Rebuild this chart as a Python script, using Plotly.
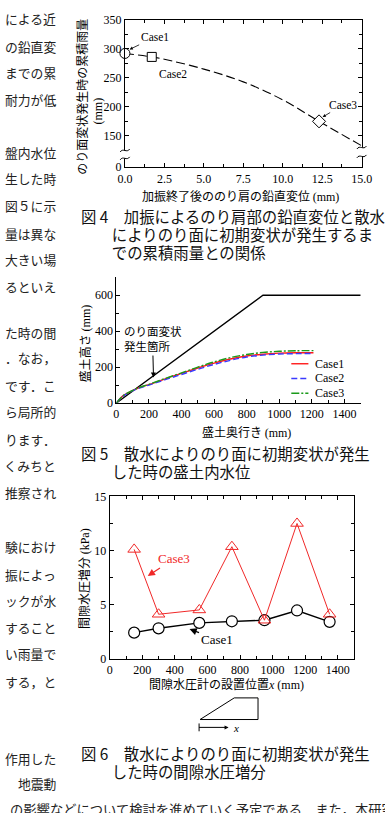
import plotly.graph_objects as go

# ---------------- data ----------------
# Fig.4
f4_cases = ["Case1", "Case2", "Case3"]
f4_disp = [0.0, 1.7, 12.3]
f4_rain = [292, 286, 175]
f4_symbols = ["circle", "square", "diamond"]
f4_fit_x = [0.0, 1.7, 2.5, 5.0, 7.5, 10.0, 12.3, 15.0]
f4_fit_y = [292, 286, 282, 265, 243, 212, 175, 133]
f4_xticks = [0.0, 2.5, 5.0, 7.5, 10.0, 12.5, 15.0]
f4_yticks = [96, 150, 200, 250, 300, 350]
f4_yticktext = ["0", "150", "200", "250", "300", "350"]

# Fig.5
f5_surface_x = [0, 900, 1500]
f5_surface_y = [0, 600, 600]
f5_depth = [0, 40, 130, 200, 300, 400, 500, 600, 700, 800, 900, 1000, 1100, 1210]
f5_case1 = [0, 40, 82, 103, 135, 165, 195, 222, 245, 262, 272, 278, 280, 280]
f5_case2 = [0, 38, 80, 100, 130, 159, 188, 215, 238, 256, 267, 273, 275, 276]
f5_case3 = [0, 40, 83, 104, 137, 168, 200, 229, 253, 270, 282, 288, 291, 292]
f5_names = ["Case1", "Case2", "Case3"]

# Fig.6
f6_x = [150, 300, 550, 750, 950, 1150, 1350]
f6_case1 = [2.4, 2.8, 3.3, 3.45, 3.55, 4.45, 3.4]
f6_case3 = [10.1, 4.1, 4.5, 10.35, 3.55, 12.5, 4.1]

# body text fragments visible in the left column
body_lines = [
    (12, "による近"), (40, "の鉛直変"), (67, "までの累"), (94, "耐力が低"),
    (148, "盤内水位"), (175, "生した時"), (202, "図５に示"), (230, "量は異な"),
    (257, "大きい場"), (284, "るといえ"),
    (331, "た時の間"), (357, "．なお，"), (385, "です．こ"), (412, "ら局所的"),
    (440, "ります．"), (467, "くみちと"), (494, "推察され"),
    (549, "験におけ"), (577, "振によっ"), (604, "ックが水"), (631, "すること"),
    (658, "い雨量で"), (686, "する，と"),
    (765, "作用した"), (790, "地震動"),
]
bottom_line = "の影響などについて検討を進めていく予定である．また，本研究"

captions = [
    (75, 210, ["図 4　加振によるのり肩部の鉛直変位と散水",
               "　　によりのり面に初期変状が発生するま",
               "　　での累積雨量との関係"]),
    (75, 452, ["図 5　散水によりのり面に初期変状が発生",
               "　　した時の盛土内水位"]),
    (75, 757, ["図 6　散水によりのり面に初期変状が発生",
               "　　した時の間隙水圧増分"]),
]

# ---------------- helpers ----------------
W, H = 385, 813
def px(x):
    return x / W
def py(y):
    return 1 - y / H
def P(x, y):
    return f"{px(x):.5f},{py(y):.5f}"

JP = "Noto Sans CJK JP"
SERIF = "Liberation Serif"
RED = "#f02828"

fig = go.Figure()

# ---- Fig.4 traces ----
fig.add_trace(go.Scatter(x=f4_fit_x, y=f4_fit_y, mode="lines",
                         line=dict(color="black", width=1.1, dash="9px,4px", shape="spline"),
                         xaxis="x", yaxis="y", hoverinfo="skip", cliponaxis=False))
for i in range(3):
    fig.add_trace(go.Scatter(x=[f4_disp[i]], y=[f4_rain[i]], mode="markers",
                             marker=dict(symbol=f4_symbols[i], size=[10, 9, 10][i], color="white",
                                         line=dict(color="black", width=1)),
                             xaxis="x", yaxis="y", cliponaxis=False, name=f4_cases[i]))

# ---- Fig.5 traces ----
fig.add_trace(go.Scatter(x=f5_surface_x, y=f5_surface_y, mode="lines",
                         line=dict(color="black", width=1.3), xaxis="x2", yaxis="y2"))
f5_styles = [dict(color="#ff1a1a", width=1.4, dash="solid"),
             dict(color="#3a3aff", width=1.4, dash="6px,3px"),
             dict(color="#1a9a1a", width=1.4, dash="8px,2px,2px,2px")]
for ys, st, nm in zip([f5_case1, f5_case2, f5_case3], f5_styles, f5_names):
    fig.add_trace(go.Scatter(x=f5_depth, y=ys, mode="lines", line=dict(shape="spline", **st),
                             xaxis="x2", yaxis="y2", name=nm))

# ---- Fig.6 traces ----
fig.add_trace(go.Scatter(x=f6_x, y=f6_case1, mode="lines+markers",
                         line=dict(color="black", width=1.4),
                         marker=dict(symbol="circle", size=11, color="white",
                                     line=dict(color="black", width=1.2)),
                         xaxis="x3", yaxis="y3", name="Case1"))
fig.add_trace(go.Scatter(x=f6_x, y=f6_case3, mode="lines+markers",
                         line=dict(color=RED, width=1),
                         marker=dict(symbol="triangle-up-open", size=11, color=RED,
                                     line=dict(color=RED, width=1)),
                         xaxis="x3", yaxis="y3", name="Case3"))

# ---- axes ----
def ax(**kw):
    base = dict(showline=True, linecolor="black", linewidth=1, ticks="inside", ticklen=4,
                tickcolor="black", tickwidth=1, showgrid=False, zeroline=False,
                tickfont=dict(family=SERIF, size=12, color="black"), fixedrange=True)
    base.update(kw)
    return base

minor = lambda **kw: dict(ticks="inside", ticklen=3, tickcolor="black", showgrid=False, **kw)

fig.update_layout(
    width=W, height=H, margin=dict(l=0, r=0, t=0, b=0),
    paper_bgcolor="white", plot_bgcolor="white", showlegend=False,
    xaxis=ax(domain=[px(123), px(372)], range=[0, 15], tickvals=f4_xticks, tickformat=".1f",
             mirror="allticks", anchor="y", minor=minor(dtick=1.25, tick0=0)),
    yaxis=ax(domain=[py(163), py(13)], range=[96, 350], tickvals=f4_yticks, ticktext=f4_yticktext,
             mirror="allticks", anchor="x", minor=minor(tickvals=[175, 225, 275, 325])),
    xaxis2=ax(domain=[px(114), px(371)], range=[0, 1500], dtick=200, tick0=0, anchor="y2",
              minor=minor(dtick=100, tick0=0)),
    yaxis2=ax(domain=[py(403), py(275)], range=[0, 700], dtick=200, tick0=0, anchor="x2",
              minor=minor(dtick=100, tick0=0)),
    xaxis3=ax(domain=[px(107), px(364)], range=[0, 1500], dtick=200, tick0=0, anchor="y3",
              mirror="allticks", minor=minor(dtick=100, tick0=0)),
    yaxis3=ax(domain=[py(663), py(498)], range=[0, 15], dtick=5, tick0=0, anchor="x3",
              mirror="allticks", minor=minor(dtick=2.5, tick0=0)),
)

ann = []
def note(x, y, text, size=12, family=JP, color="black", xanchor="center", yanchor="middle",
         angle=0, align="center"):
    ann.append(dict(x=px(x), y=py(y), xref="paper", yref="paper", text=text, showarrow=False,
                    xanchor=xanchor, yanchor=yanchor, textangle=angle, align=align,
                    font=dict(family=family, size=size, color=color)))

def arrow(xr, yr, x, y, axp, ayp, text, size=12, color="black", family=SERIF, head=2,
          asize=1.0, awidth=1.0, align="center"):
    ann.append(dict(x=x, y=y, xref=xr, yref=yr, ax=axp, ay=ayp, text=text, showarrow=True,
                    arrowhead=head, arrowsize=asize, arrowwidth=awidth, arrowcolor=color,
                    align=align, font=dict(family=family, size=size, color=color)))

# body text
for yy, t in body_lines:
    note(53, yy, t, size=12.8, color="#222", xanchor="right")
note(0, 817, bottom_line, size=13.3, color="#222", xanchor="left")

# captions: one text block each; line spacing set by the base size (1.3em = 18px),
# glyphs enlarged with an inner span
CAP_BASE = 13.85
for cx, cy, lines in captions:
    body = "<br>".join(f"<span style='font-size:15.4px'>{ln}</span>" for ln in lines)
    ann.append(dict(x=px(cx), y=py(cy - 11), xref="paper", yref="paper", text=body,
                    showarrow=False, xanchor="left", yanchor="top", align="left",
                    font=dict(family=JP, size=CAP_BASE, color="#111")))

SER = f"<span style='font-family:{SERIF}'>"
# Fig.4 titles
note(77, 91, "のり面変状発生時の累積雨量", size=12, angle=-90)
note(95, 106, "(mm)", size=12, family=SERIF, angle=-90)
note(245, 192, f"加振終了後ののり肩の鉛直変位 {SER}(mm)</span>", size=12)
arrow("x", "y", 0.3, 299, 25, -12, "Case1", size=11.5, asize=0.8, awidth=0.8)
arrow("x", "y", 1.87, 275.5, 19, 11, "Case2", size=11.5, asize=0.8, awidth=0.8)
arrow("x", "y", 12.53, 182.4, 20, -12, "Case3", size=11.5, asize=0.8, awidth=0.8)

# Fig.5 titles
note(80, 343, f"盛土高さ {SER}(mm)</span>", size=12, angle=-90)
note(251, 432, f"盛土奥行き {SER}(mm)</span>", size=12)
arrow("x2", "y2", 228, 142, -1, -39, "のり面変状<br>発生箇所", size=11.5, family=JP,
      asize=1.0, awidth=1.0, align="left")

# Fig.5 legend (manual)
shapes = []
for i, (nm, st) in enumerate(zip(f5_names, f5_styles)):
    yy = 363 + 15 * i
    shapes.append(dict(type="line", xref="paper", yref="paper", x0=px(298), x1=px(316),
                       y0=py(yy), y1=py(yy),
                       line=dict(color=st["color"], width=st["width"], dash=st["dash"])))
    note(321, yy, nm, size=12, family=SERIF, xanchor="left")

# Fig.6 titles
note(80, 582, f"間隙水圧増分 {SER}(kPa)</span>", size=12, angle=-90)
note(230, 688, f"間隙水圧計の設置位置{SER}<i>x</i> (mm)</span>", size=12)
arrow("x3", "y3", 233.5, 7.64, 26, -17, "Case3", size=13, color=RED, asize=1.2, awidth=1.2)
arrow("x3", "y3", 490, 2.73, 27, 10, "Case1", size=13, asize=1.2, awidth=1.2)

# small diagram under Fig.6
shapes.append(dict(type="path", xref="paper", yref="paper",
                   path=f"M {P(202,725)} L {P(238,703)} L {P(263,703)} L {P(263,725)} Z",
                   line=dict(color="black", width=1)))
shapes.append(dict(type="line", xref="paper", yref="paper", x0=px(201), x1=px(201),
                   y0=py(729), y1=py(737), line=dict(color="black", width=1)))
ann.append(dict(x=px(232), y=py(733), xref="paper", yref="paper", ax=-31, ay=0, text="",
                showarrow=True, arrowhead=2, arrowsize=0.8, arrowwidth=1, arrowcolor="black"))
note(235, 734, "<i>x</i>", size=11, family=SERIF, xanchor="left")

# axis break marks on Fig.4
def brk(xc, y1, y2):
    shapes.append(dict(type="rect", xref="paper", yref="paper", x0=px(xc - 4), x1=px(xc + 4),
                       y0=py(y2), y1=py(y1), fillcolor="white", line=dict(width=0), layer="above"))
    for yc in (y1, y2):
        shapes.append(dict(type="path", xref="paper", yref="paper", layer="above",
                           path=f"M {P(xc-5, yc+1.5)} C {P(xc-2, yc-3)} {P(xc+2, yc+3)} {P(xc+5, yc-1.5)}",
                           line=dict(color="black", width=1)))
brk(123, 146, 154)
brk(372, 143, 152)

fig.update_layout(annotations=ann, shapes=shapes)
fig.write_html("out.html")
